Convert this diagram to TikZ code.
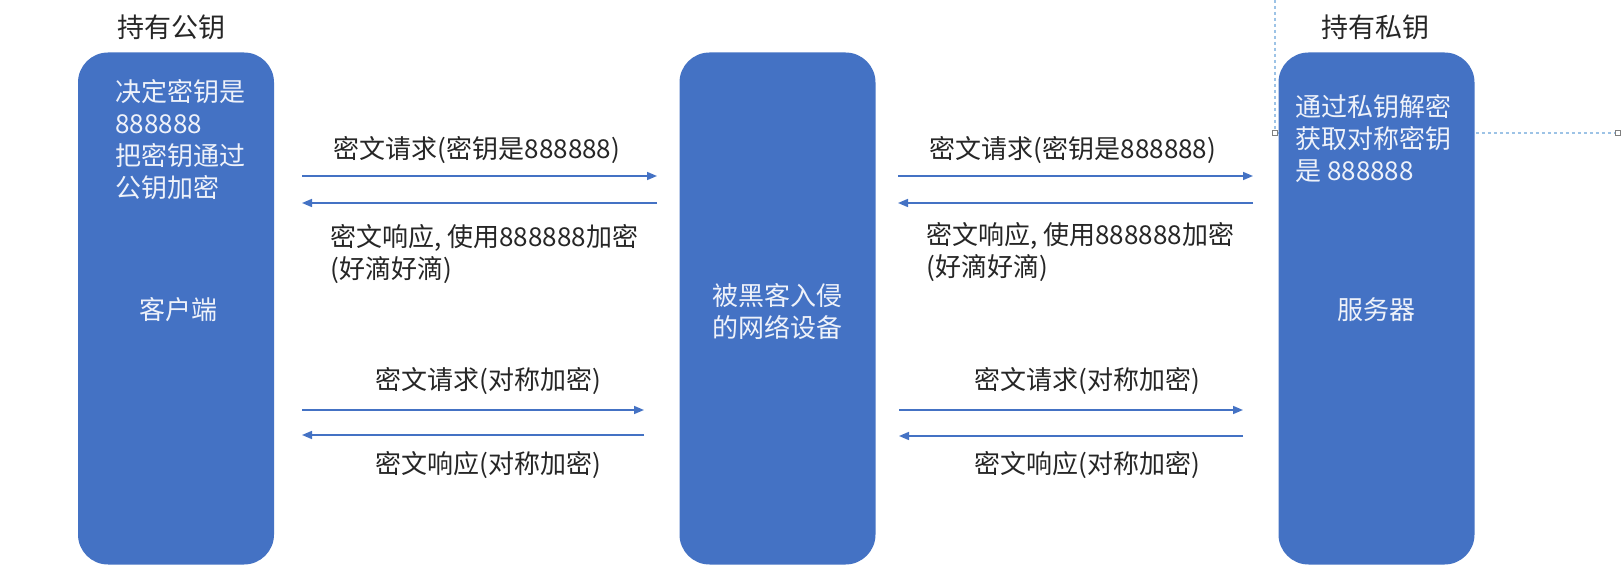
\documentclass[tikz,border=0pt]{standalone}
\usepackage{fontspec}
\setmainfont{Noto Sans CJK SC}
\usetikzlibrary{arrows.meta}
\definecolor{boxblue}{HTML}{4472C4}
\definecolor{txt}{HTML}{262626}
\definecolor{guide}{HTML}{9DC3E6}
\definecolor{boxtxt}{HTML}{EEF2FA}
\begin{document}
\begin{tikzpicture}[x=0.5pt,y=-0.5pt,
  box/.style={fill=boxblue, draw=none, rounded corners=15pt, minimum width=98pt, minimum height=256pt, inner sep=0pt},
  intext/.style={text=boxtxt, font=\fontsize{13}{16}\selectfont, inner sep=0pt, align=left},
  lbl/.style={text=txt, font=\fontsize{13}{16}\selectfont, inner sep=0pt, align=left},
  head/.style={text=txt, font=\fontsize{13.5}{16}\selectfont, inner sep=0pt},
  arr/.style={draw=boxblue, line width=0.75pt, -{Triangle[length=5pt,width=4pt]}},
  guideline/.style={draw=guide, line width=0.6pt, dash pattern=on 1.5pt off 1.5pt},
  handle/.style={draw=gray, fill=white, line width=0.4pt, minimum size=2.5pt, inner sep=0pt}]
\useasboundingbox (0,0) rectangle (1623,582);
\fill[white] (0,0) rectangle (1623,582);

% guide lines (selection artefacts)
\coordinate (gtop) at (1275,0);
\node[handle] (h1) at (1275,133) {};
\node[handle] (h2) at (1618,133) {};
\draw[guideline] (gtop) -- (h1.north);
\draw[guideline] (h1.east) -- (h2.west);

% boxes
\node[box] (client) at (176,308.5) {};
\node[box] (mitm) at (777.5,308.5) {};
\node[box] (server) at (1376.5,308.5) {};

% headings
\node[head] (hl) at (171,27) {持有公钥};
\node[head] (hr) at (1375,27) {持有私钥};

% box texts
\node[intext, anchor=west] (ct) at (115,140) {决定密钥是\\888888\\把密钥通过\\公钥加密};
\node[intext] (cn) at (178,310) {客户端};
\node[intext, align=center] (mt) at (777,312) {被黑客入侵\\的网络设备};
\node[intext, anchor=west] (st) at (1295,139) {通过私钥解密\\获取对称密钥\\是 888888};
\node[intext] (sn) at (1376,310) {服务器};

% left upper arrows
\coordinate (l1a) at (302,176); \coordinate (l1b) at (657,176);
\coordinate (l2a) at (302,203); \coordinate (l2b) at (657,203);
\draw[arr] (l1a) -- (l1b);
\draw[arr] (l2b) -- (l2a);
\node[lbl] (t1) at (477,150) {密文请求(密钥是888888)};
\node[lbl, anchor=west] (t2) at (330,254) {密文响应, 使用888888加密\\(好滴好滴)};

% left lower arrows
\coordinate (l3a) at (302,410); \coordinate (l3b) at (644,410);
\coordinate (l4a) at (302,435); \coordinate (l4b) at (644,435);
\draw[arr] (l3a) -- (l3b);
\draw[arr] (l4b) -- (l4a);
\node[lbl] (t3) at (488,381) {密文请求(对称加密)};
\node[lbl] (t4) at (488,465) {密文响应(对称加密)};

% right upper arrows
\coordinate (r1a) at (898,176); \coordinate (r1b) at (1253,176);
\coordinate (r2a) at (898,203); \coordinate (r2b) at (1253,203);
\draw[arr] (r1a) -- (r1b);
\draw[arr] (r2b) -- (r2a);
\node[lbl] (t5) at (1073,150) {密文请求(密钥是888888)};
\node[lbl, anchor=west] (t6) at (926,252) {密文响应, 使用888888加密\\(好滴好滴)};

% right lower arrows
\coordinate (r3a) at (899,410); \coordinate (r3b) at (1243,410);
\coordinate (r4a) at (899,436); \coordinate (r4b) at (1243,436);
\draw[arr] (r3a) -- (r3b);
\draw[arr] (r4b) -- (r4a);
\node[lbl] (t7) at (1087,381) {密文请求(对称加密)};
\node[lbl] (t8) at (1087,465) {密文响应(对称加密)};
\end{tikzpicture}
\end{document}
